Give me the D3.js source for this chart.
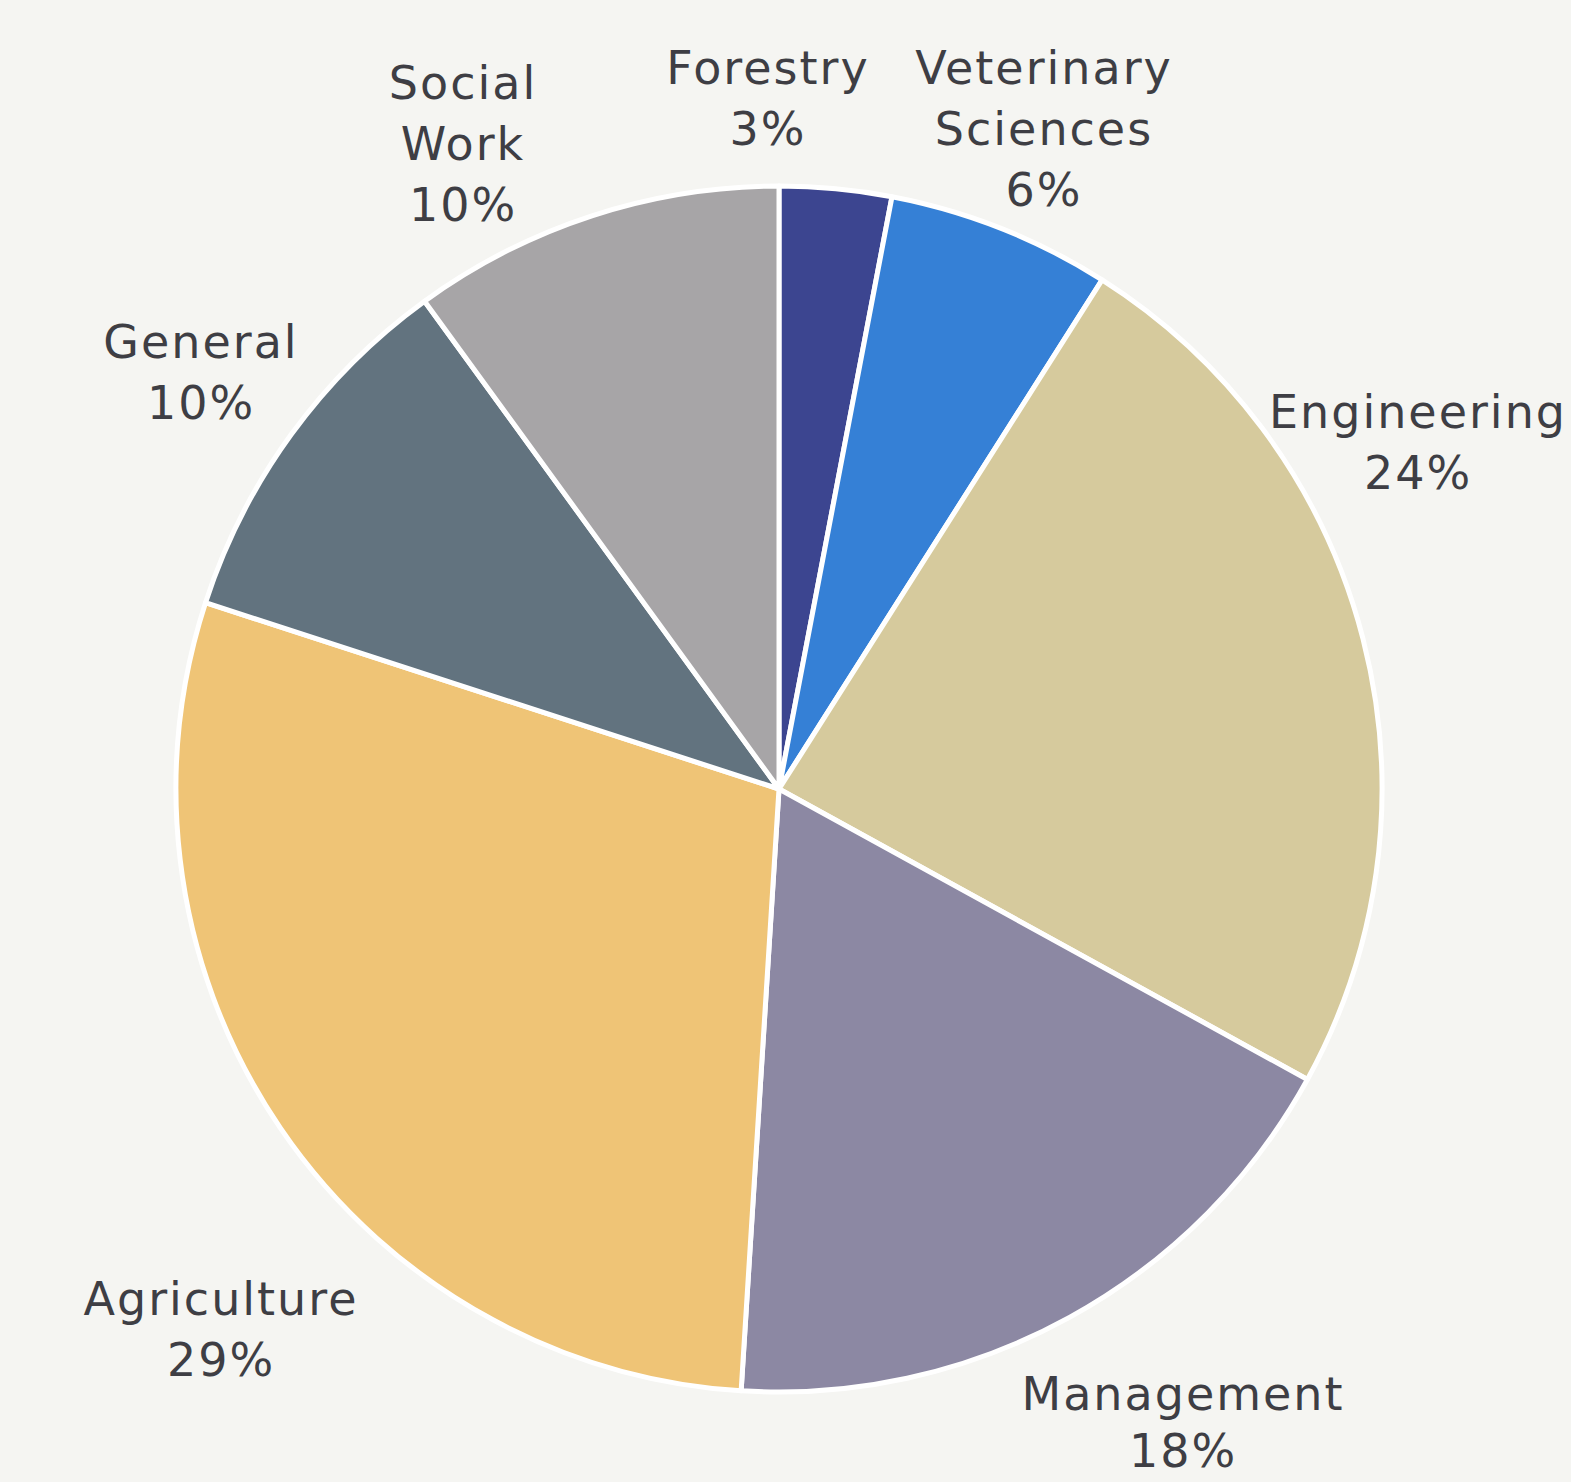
<!DOCTYPE html>
<html>
<head>
<meta charset="utf-8">
<script src="https://cdn.jsdelivr.net/npm/d3@7"></script>
<style>
  body { margin: 0; background: #f5f5f2; }
  svg { display: block; }
</style>
</head>
<body>
<svg></svg>
<script>
// slices, clockwise from 12 o'clock
const categories = ['Forestry', 'Veterinary Sciences', 'Engineering', 'Management', 'Agriculture', 'General', 'Social Work'];
const shares = [3, 6, 24, 18, 29, 10, 10];
const labelLines = [['Forestry'], ['Veterinary', 'Sciences'], ['Engineering'], ['Management'], ['Agriculture'], ['General'], ['Social', 'Work']];
const colors = ['#3c4590', '#3580d6', '#d6ca9d', '#8c88a3', '#efc476', '#62737f', '#a7a5a7'];

// where each label block sits (first baseline)
const labelPos = [[768, 84], [1044, 84], [1418, 428], [1183, 1410], [221, 1315], [201, 358], [463, 99]];

const width = 1571, height = 1482;
const cx = 779, cy = 789, radius = 603;
const lineH = 61;

const svg = d3.select('svg').attr('width', width).attr('height', height);

svg.append('rect').attr('width', width).attr('height', height).attr('fill', '#f5f5f2');

const pie = d3.pie().sort(null).value(d => d);
const arc = d3.arc().innerRadius(0).outerRadius(radius);

const g = svg.append('g').attr('transform', `translate(${cx},${cy})`);

g.selectAll('path')
  .data(pie(shares))
  .enter()
    .append('path')
    .attr('d', arc)
    .attr('fill', (d, i) => colors[i])
    .attr('stroke', '#ffffff')
    .attr('stroke-width', 5)
    .attr('stroke-linejoin', 'round');

const labels = svg.selectAll('text.lbl')
  .data(categories)
  .enter()
    .append('text')
    .attr('class', 'lbl')
    .attr('x', (d, i) => labelPos[i][0])
    .attr('y', (d, i) => labelPos[i][1])
    .attr('text-anchor', 'middle')
    .attr('font-family', 'DejaVu Sans, Verdana, sans-serif')
    .attr('font-size', 46)
    .attr('letter-spacing', 2)
    .attr('fill', '#3e3e44');

labels.each(function(d, i) {
  const t = d3.select(this);
  const lines = labelLines[i].concat([shares[i] + '%']);
  // bottom label sits at the page edge, so its lines are a little tighter
  const gap = i === 3 ? 57 : lineH;
  lines.forEach((s, k) => {
    t.append('tspan')
      .attr('x', labelPos[i][0])
      .attr('dy', k === 0 ? 0 : gap)
      .text(s);
  });
});
</script>
</body>
</html>
